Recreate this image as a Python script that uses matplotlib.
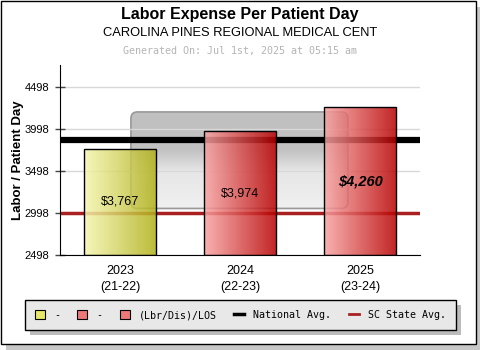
import numpy as np
import matplotlib
matplotlib.use("Agg")
import matplotlib.pyplot as plt
from matplotlib.colors import LinearSegmentedColormap
from matplotlib.patches import Rectangle, FancyBboxPatch, Patch
from matplotlib.lines import Line2D

plt.rcParams['font.family'] = ['Liberation Sans', 'DejaVu Sans']

# data
years = ['2023', '2024', '2025']
periods = ['(21-22)', '(22-23)', '(23-24)']
values = [3767, 3974, 4260]
value_labels = ['$3,767', '$3,974', '$4,260']
national_avg = 3870
state_avg = 2998
yticks = [2498, 2998, 3498, 3998, 4498]
y_min, y_max = 2498, 4764

bar_colors = [('#f6f6b0', '#b0b018'), ('#f9a4a4', '#b80000'), ('#f9a4a4', '#b80000')]
legend_labels = ['-', '-', '(Lbr/Dis)/LOS', 'National Avg.', 'SC State Avg.']
mono = 'DejaVu Sans Mono'

fig = plt.figure(figsize=(4.8, 3.5), dpi=100)
W, H = 480.0, 350.0

# outer frame with drop shadow
fig.patches.append(Rectangle((6 / W, 0), 474 / W, 343 / H, transform=fig.transFigure,
                             facecolor='#c8c8c8', edgecolor='none', zorder=0))
fig.patches.append(Rectangle((1 / W, 6 / H), 475 / W, 343 / H, transform=fig.transFigure,
                             facecolor='white', edgecolor='black', linewidth=1, zorder=1))

fig.text(0.5, 1 - 14 / H, 'Labor Expense Per Patient Day', ha='center', va='center',
         fontsize=11.5, fontweight='bold')
fig.text(0.5, 1 - 33 / H, 'CAROLINA PINES REGIONAL MEDICAL CENT', ha='center', va='center',
         fontsize=9.3)
fig.text(0.5, 1 - 51 / H, 'Generated On: Jul 1st, 2025 at 05:15 am', ha='center', va='center',
         fontsize=7.2, color='#b4b4b4', family=mono)

ax = fig.add_axes([60 / W, 95 / H, 360 / W, 190 / H])
ax.set_zorder(2)
ax.patch.set_alpha(0)

# faded watermark box behind the bars
wm_box = FancyBboxPatch((0.197, 0.245), 0.603, 0.508, transform=ax.transAxes,
                        boxstyle='round,pad=0,rounding_size=0.018', mutation_aspect=360 / 190,
                        facecolor='none', edgecolor='#999999', linewidth=1.2, zorder=0.3)
ax.add_patch(wm_box)
wm_cmap = LinearSegmentedColormap.from_list(
    'wm', [(0, '#c0c0c0'), (0.40, '#c2c2c2'), (0.62, '#e6e6e6'), (1, '#f0f0f0')])
wm = ax.imshow(np.linspace(0, 1, 100).reshape(-1, 1), cmap=wm_cmap, aspect='auto',
               extent=[0.197, 0.8, 0.245, 0.753], transform=ax.transAxes, zorder=0.1)
wm.set_clip_path(wm_box)

x = np.arange(len(years))
ax.axhline(state_avg, color='#aa2020', linewidth=2.5, zorder=1.5)
ax.axhline(national_avg, color='black', linewidth=4.5, zorder=1.6)

bars = ax.bar(x, [v - y_min for v in values], bottom=y_min, width=0.6,
              facecolor='none', edgecolor='black', linewidth=1, zorder=3)
grad = np.linspace(0, 1, 256).reshape(1, -1)
for b, (c0, c1) in zip(bars, bar_colors):
    cmap = LinearSegmentedColormap.from_list('g', [c0, c1])
    im = ax.imshow(grad, cmap=cmap, aspect='auto', alpha=0.85, zorder=2,
                   extent=[b.get_x(), b.get_x() + b.get_width(), b.get_y(), b.get_y() + b.get_height()])
    im.set_clip_path(b)

for i, (v, lab) in enumerate(zip(values, value_labels)):
    if i == len(values) - 1:
        ax.text(i, (v + y_min) / 2, lab, ha='center', va='center', fontsize=10.5,
                fontweight='bold', fontstyle='italic', zorder=4)
    else:
        ax.text(i, (v + y_min) / 2, lab, ha='center', va='center', fontsize=9, zorder=4)

ax.set_xlim(-0.5, 2.5)
ax.set_ylim(y_min, y_max)
ax.set_xticks(x)
ax.set_xticklabels([f'{y}\n{p}' for y, p in zip(years, periods)], fontsize=9, linespacing=1.5)
ax.set_yticks(yticks)
ax.set_yticklabels([str(t) for t in yticks], fontsize=8)
ax.tick_params(axis='x', length=0, pad=7)
ax.tick_params(axis='y', direction='inout', length=7, width=1, color='#444444', pad=4)
ax.set_axisbelow(True)
ax.yaxis.grid(True, color='#d8d8d8', linewidth=1)
for s in ['top', 'right']:
    ax.spines[s].set_visible(False)
ax.spines['left'].set_zorder(5)
ax.spines['bottom'].set_zorder(5)
ax.set_ylabel('Labor / Patient Day', fontsize=9.5, fontweight='bold')
ax.yaxis.set_label_coords(-36 / 360, 0.5)

handles = [Patch(facecolor='#e6e66a', edgecolor='black', linewidth=0.8),
           Patch(facecolor='#ec7878', edgecolor='black', linewidth=0.8),
           Patch(facecolor='#ec7878', edgecolor='black', linewidth=0.8),
           Line2D([], [], color='black', linewidth=2.5),
           Line2D([], [], color='#aa2020', linewidth=2)]
leg = fig.legend(handles, legend_labels, loc='lower left', ncol=5, mode='expand',
                 bbox_to_anchor=(20 / W, 15 / H, 441 / W, 36 / H),
                 prop={'family': mono, 'size': 7.2}, handlelength=1.0, handleheight=1.0,
                 handletextpad=0.9, columnspacing=1.2, borderpad=1.0,
                 frameon=True, fancybox=False, facecolor='#e8e8e8', edgecolor='black',
                 framealpha=1)
leg.get_frame().set_linewidth(1)
leg.set_zorder(4)

fig.canvas.draw()
bb = leg.get_window_extent().transformed(fig.transFigure.inverted())
fig.patches.append(Rectangle((bb.x0 + 5 / W, bb.y0 - 5 / H), bb.width, bb.height,
                             transform=fig.transFigure, facecolor='#bcbcbc',
                             edgecolor='none', zorder=3))

fig.savefig('out.png', dpi=100)
